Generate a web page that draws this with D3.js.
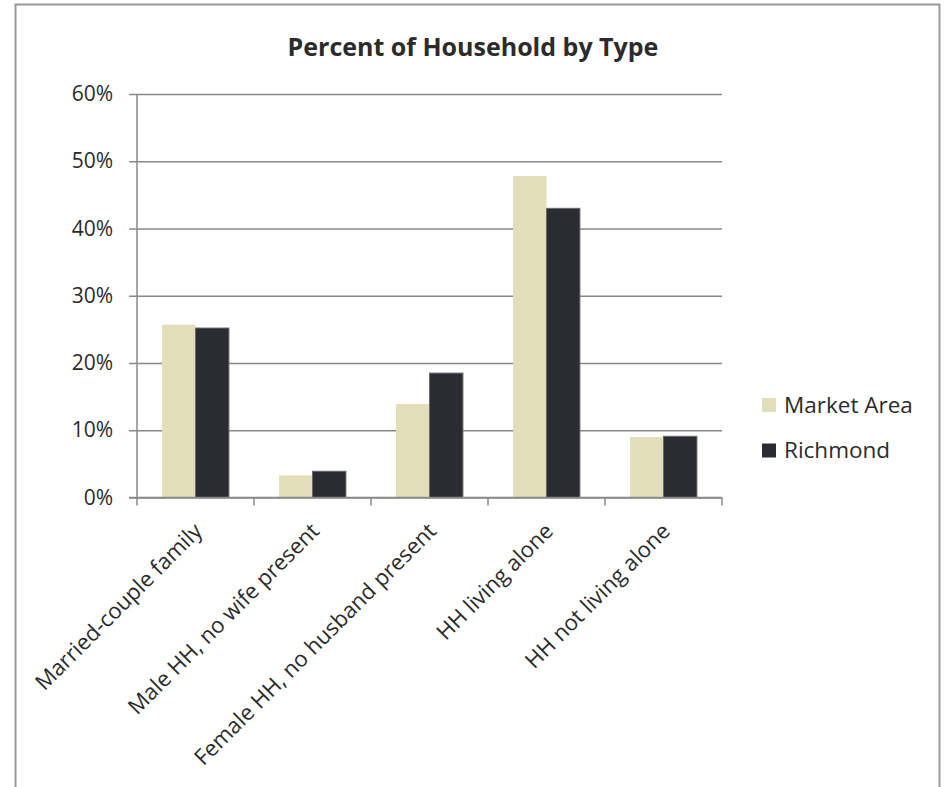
<!DOCTYPE html>
<html>
<head>
<meta charset="utf-8">
<script src="https://cdn.jsdelivr.net/npm/d3@7"></script>
<style>
  body { margin: 0; background: #fff; }
  text { font-family: "Open Sans", sans-serif; fill: #2b2b2b; }
</style>
</head>
<body>
<div id="chart"></div>
<script>
const categories = [
    "Married-couple family",
    "Male HH, no wife present",
    "Female HH, no husband present",
    "HH living alone",
    "HH not living alone"
]
const seriesNames = ["Market Area", "Richmond"]
const marketArea = [0.257, 0.033, 0.139, 0.478, 0.090]
const richmond = [0.252, 0.039, 0.185, 0.430, 0.091]
const yTicks = [0, 0.1, 0.2, 0.3, 0.4, 0.5, 0.6]
const colors = ["#e2deba", "#2b2c31"]

const width = 944
const height = 787
const plot = {left: 137, right: 722, top: 94, bottom: 497.5}

const rows = categories.map((c, i) => ({category: c, values: [marketArea[i], richmond[i]]}))

const svg = d3.select("#chart")
    .append("svg")
    .attr("width", width)
    .attr("height", height)

// chart frame
svg.append("rect")
    .attr("x", 15.5)
    .attr("y", 4.5)
    .attr("width", 924)
    .attr("height", 820)
    .attr("fill", "none")
    .attr("stroke", "#9a9a9a")
    .attr("stroke-width", 2)

const xScale = d3.scaleBand()
    .domain(categories)
    .range([plot.left, plot.right])

const xInner = d3.scaleBand()
    .domain(seriesNames)
    .range([0, xScale.bandwidth()])
    .paddingOuter(0.75)

const yScale = d3.scaleLinear()
    .domain([0, 0.6])
    .range([plot.bottom, plot.top])

// gridlines + y labels
svg.append("g")
    .attr("class", "y-axis")
    .attr("transform", `translate(${plot.left}, 0)`)
    .call(d3.axisLeft(yScale)
        .tickValues(yTicks)
        .tickFormat(d3.format(".0%"))
        .tickSize(-(plot.right - plot.left))
        .tickPadding(24))
    .call(g => g.select(".domain").remove())
    .call(g => g.selectAll(".tick line")
        .attr("x1", -8)
        .attr("stroke", "#888")
        .attr("stroke-width", 1.5))
    .call(g => g.selectAll(".tick text")
        .attr("font-size", 21)
        .attr("font-family", "Open Sans, sans-serif")
        .attr("fill", "#2b2b2b"))

// bars
const groups = svg.append("g")
    .selectAll("g")
    .data(rows)
    .join("g")
    .attr("transform", d => `translate(${xScale(d.category)}, 0)`)

groups.selectAll("rect")
    .data(d => d.values.map((v, i) => ({name: seriesNames[i], value: v, i})))
    .join("rect")
    .attr("x", d => xInner(d.name))
    .attr("width", xInner.bandwidth())
    .attr("y", d => yScale(d.value))
    .attr("height", d => plot.bottom - yScale(d.value))
    .attr("fill", d => colors[d.i])
    .attr("stroke", d => d.i === 1 ? "#6a6a6a" : "none")
    .attr("stroke-width", 1)

// vertical axis line
svg.append("line")
    .attr("x1", plot.left).attr("x2", plot.left)
    .attr("y1", plot.top).attr("y2", plot.bottom + 8)
    .attr("stroke", "#888")
    .attr("stroke-width", 1.5)

// x axis line + category ticks
svg.append("line")
    .attr("x1", plot.left - 8).attr("x2", plot.right)
    .attr("y1", plot.bottom).attr("y2", plot.bottom)
    .attr("stroke", "#888")
    .attr("stroke-width", 1.5)

svg.append("g")
    .selectAll("line")
    .data(categories.slice(1).map(c => xScale(c)).concat([plot.right]))
    .join("line")
    .attr("x1", d => d).attr("x2", d => d)
    .attr("y1", plot.bottom).attr("y2", plot.bottom + 8)
    .attr("stroke", "#888")
    .attr("stroke-width", 1.5)

// x labels
svg.append("g")
    .selectAll("text")
    .data(categories)
    .join("text")
    .attr("transform", d => `translate(${xScale(d) + xScale.bandwidth() / 2 + 8}, ${plot.bottom + 35}) rotate(-45)`)
    .attr("text-anchor", "end")
    .attr("font-size", 22)
    .text(d => d)

// title
svg.append("text")
    .attr("x", 473)
    .attr("y", 56)
    .attr("text-anchor", "middle")
    .attr("font-size", 25)
    .attr("font-weight", "bold")
    .text("Percent of Household by Type")

// legend
const legend = svg.append("g")
    .selectAll("g")
    .data(seriesNames)
    .join("g")
    .attr("transform", (d, i) => `translate(762, ${398 + i * 45.5})`)

legend.append("rect")
    .attr("width", 14)
    .attr("height", 14)
    .attr("fill", (d, i) => colors[i])

legend.append("text")
    .attr("x", 22)
    .attr("y", 14.5)
    .attr("font-size", 22.5)
    .text(d => d)
</script>
</body>
</html>
